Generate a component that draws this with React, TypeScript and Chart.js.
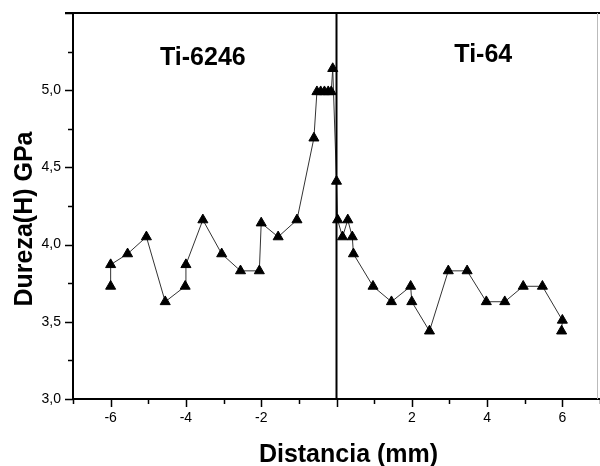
import React, { useEffect, useRef } from 'react';
import { Chart, registerables } from 'chart.js';

Chart.register(...registerables);

// Hardness profile across the weld interface (x in mm, y in GPa)
const distancia = [
  -6.0, -6.0, -5.55, -5.05, -4.55, -4.02, -4.0, -3.55, -3.05, -2.55, -2.05, -2.0, -1.55, -1.05,
  -0.6, -0.52, -0.42, -0.32, -0.22, -0.14, -0.1, 0.0,
  0.03, 0.16, 0.3, 0.42, 0.45, 0.97, 1.46, 1.97, 2.0, 2.47, 2.97, 3.47, 3.98, 4.47, 4.96, 5.47, 6.0, 5.98,
];
const dureza = [
  3.73, 3.87, 3.94, 4.05, 3.63, 3.73, 3.87, 4.16, 3.94, 3.83, 3.83, 4.14, 4.05, 4.16,
  4.69, 4.99, 4.99, 4.99, 4.99, 4.99, 5.14, 4.41,
  4.16, 4.05, 4.16, 4.05, 3.94, 3.73, 3.63, 3.73, 3.63, 3.44, 3.83, 3.83, 3.63, 3.63, 3.73, 3.73, 3.51, 3.44,
];

// Interface line at x = 0
const interfazX = [0, 0];
const interfazY = [3.0, 5.5];

// Axis ranges
const xRange = [-7, 7];
const yRange = [3.0, 5.5];

// Region labels
const regionNames = ['Ti-6246', 'Ti-64'];
const regionX = [-3.55, 3.9];
const regionY = [5.16, 5.18];

const xTitle = 'Distancia (mm)';
const yTitle = 'Dureza(H) GPa';

const FONT = "'Liberation Sans', Arial, Helvetica, sans-serif";

const framePlugin = {
  id: 'frame',
  afterDraw(chart: any) {
    const { ctx, chartArea: a, scales } = chart;
    const xs = scales.x;
    const ys = scales.y;
    ctx.save();
    ctx.strokeStyle = '#000';
    ctx.lineWidth = 2;
    ctx.beginPath();
    ctx.moveTo(a.left, a.top);
    ctx.lineTo(a.left, a.bottom);
    ctx.lineTo(a.right, a.bottom);
    ctx.moveTo(a.left - 8, a.top);
    ctx.lineTo(a.right, a.top);
    ctx.stroke();

    ctx.strokeStyle = '#bbb';
    ctx.lineWidth = 1;
    ctx.beginPath();
    ctx.moveTo(a.right - 2.5, a.top);
    ctx.lineTo(a.right - 2.5, a.bottom);
    ctx.stroke();

    ctx.strokeStyle = '#000';
    ctx.lineWidth = 1.5;
    ctx.beginPath();
    xs.ticks.forEach((t: any) => {
      const px = Math.round(xs.getPixelForValue(t.value)) + 0.5;
      const major = Math.abs(t.value % 2) < 1e-6;
      ctx.moveTo(px, a.bottom);
      ctx.lineTo(px, a.bottom + (major ? 8 : 5));
    });
    ys.ticks.forEach((t: any) => {
      const py = Math.round(ys.getPixelForValue(t.value)) + 0.5;
      const major = Math.abs(t.value * 2 - Math.round(t.value * 2)) < 1e-6;
      ctx.moveTo(a.left, py);
      ctx.lineTo(a.left - (major ? 8 : 5), py);
    });
    ctx.stroke();

    ctx.fillStyle = '#000';
    ctx.font = `bold 25px ${FONT}`;
    ctx.textAlign = 'center';
    ctx.textBaseline = 'alphabetic';
    regionNames.forEach((name, i) => {
      ctx.fillText(name, xs.getPixelForValue(regionX[i]), ys.getPixelForValue(regionY[i]));
    });

    ctx.fillText(xTitle, (a.left + a.right) / 2 + 12, 462);
    ctx.save();
    ctx.translate(32, (a.top + a.bottom) / 2 + 13);
    ctx.rotate(-Math.PI / 2);
    ctx.fillText(yTitle, 0, 0);
    ctx.restore();
    ctx.restore();
  },
};

export default function App() {
  const ref = useRef<HTMLCanvasElement>(null);

  useEffect(() => {
    if (!ref.current) return;
    const points = distancia.map((x, i) => ({ x, y: dureza[i] }));
    const interfaz = interfazX.map((x, i) => ({ x, y: interfazY[i] }));
    const chart = new Chart(ref.current, {
      type: 'scatter',
      data: {
        datasets: [
          {
            label: 'interfaz',
            data: interfaz,
            showLine: true,
            borderColor: '#000',
            borderWidth: 2,
            pointRadius: 0,
            pointHoverRadius: 0,
          },
          {
            label: 'Dureza',
            data: points,
            showLine: true,
            borderColor: '#333',
            borderWidth: 1,
            tension: 0,
            pointStyle: 'triangle',
            pointRadius: 5.8,
            pointBackgroundColor: '#000',
            pointBorderColor: '#000',
            pointBorderWidth: 1,
          },
        ],
      },
      options: {
        responsive: false,
        animation: false,
        events: [],
        layout: { autoPadding: false, padding: { top: 13, right: 0, left: 0, bottom: 0 } },
        plugins: {
          legend: { display: false },
          tooltip: { enabled: false },
        },
        scales: {
          x: {
            type: 'linear',
            min: xRange[0],
            max: xRange[1],
            afterFit: (s: any) => {
              s.height = 67;
              s.paddingLeft = 0;
              s.paddingRight = 0;
            },
            grid: { display: false },
            border: { display: false },
            ticks: {
              stepSize: 1,
              autoSkip: false,
              maxRotation: 0,
              padding: 3,
              color: '#000',
              font: { family: FONT, size: 14 },
              callback: (v: any) => {
                const n = Number(v);
                return Math.abs(n % 2) < 1e-6 && n !== 0 && Math.abs(n) < 7 ? String(n) : '';
              },
            },
          },
          y: {
            type: 'linear',
            min: yRange[0],
            max: yRange[1],
            afterFit: (s: any) => {
              s.width = 73;
              s.paddingTop = 0;
              s.paddingBottom = 0;
            },
            grid: { display: false },
            border: { display: false },
            ticks: {
              stepSize: 0.25,
              autoSkip: false,
              padding: 4,
              color: '#000',
              font: { family: FONT, size: 14 },
              callback: (v: any) => {
                const n = Number(v);
                const major = Math.abs(n * 2 - Math.round(n * 2)) < 1e-6;
                return major && n < 5.4 ? n.toFixed(1).replace('.', ',') : '';
              },
            },
          },
        },
      },
      plugins: [framePlugin],
    });
    return () => chart.destroy();
  }, []);

  return (
    <div style={{ position: 'absolute', left: 0, top: 0, width: 600, height: 466, background: '#fff' }}>
      <canvas ref={ref} width={600} height={466} style={{ display: 'block' }} />
    </div>
  );
}
